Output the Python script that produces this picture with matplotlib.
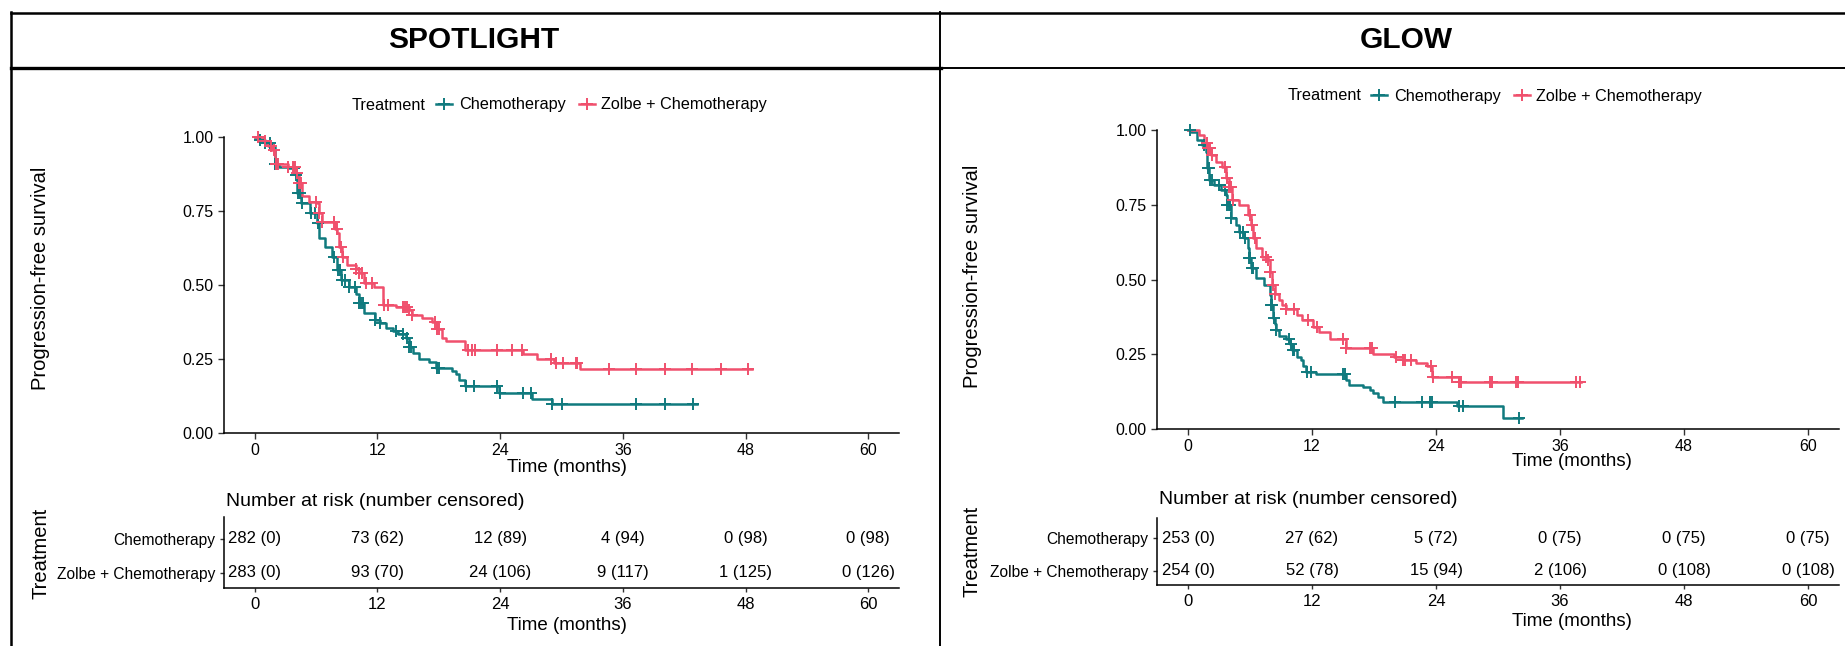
import numpy as np
import matplotlib
matplotlib.use("Agg")
import matplotlib.pyplot as plt
from matplotlib.lines import Line2D

plt.rcParams['font.family'] = ['Liberation Sans', 'DejaVu Sans']

# ---------------- data ----------------
panel_titles = ["SPOTLIGHT", "GLOW"]
groups = ["Chemotherapy", "Zolbe + Chemotherapy"]
x_ticks = [0, 12, 24, 36, 48, 60]
y_ticks = [0.00, 0.25, 0.50, 0.75, 1.00]

# SPOTLIGHT - Chemotherapy
sp_chemo_t = [0, 0.5, 1.0, 1.7, 2.0, 2.4, 3.3, 4.0, 4.1, 4.5, 5.45, 6.1, 6.3, 6.9, 7.6,
              8.06, 8.4, 9.2, 9.9, 10.2, 10.7, 11.8, 12.3, 12.8, 13.5, 14.0, 14.8, 15.1,
              15.5, 16.1, 17.0, 17.7, 19.3, 19.7, 20.0, 20.6, 23.9, 27.1, 29.1]
sp_chemo_s = [1.0, 0.99, 0.98, 0.967, 0.91, 0.90, 0.895, 0.87, 0.81, 0.777, 0.743, 0.71, 0.66,
              0.63, 0.596, 0.55, 0.517, 0.494, 0.47, 0.438, 0.405, 0.382, 0.37, 0.355, 0.345,
              0.335, 0.32, 0.29, 0.27, 0.25, 0.24, 0.22, 0.21, 0.20, 0.18, 0.16, 0.135, 0.115, 0.098]
sp_chemo_end = 43.2
sp_chemo_cens = [0.5, 1.0, 1.5, 2.0, 2.2, 3.8, 4.0, 4.2, 4.4, 4.6, 5.5, 5.9, 6.2, 7.8, 8.1, 8.3,
                 8.5, 8.8, 9.2, 9.8, 10.2, 10.4, 10.6, 11.8, 12.3, 13.8, 14.5, 14.9, 15.1, 15.3,
                 17.8, 18.0, 20.7, 21.4, 23.7, 24.0, 26.2, 27.0, 29.1, 30.0, 37.3, 40.1, 42.9]

# SPOTLIGHT - Zolbe + Chemotherapy
sp_zolbe_t = [0, 0.8, 1.3, 1.7, 2.0, 3.3, 4.0, 4.3, 4.6, 5.3, 6.1, 6.3, 6.6, 7.9, 8.06, 8.2,
              8.55, 9.0, 9.9, 10.2, 10.7, 11.65, 12.5, 13.8, 15.1, 15.4, 16.4, 17.3, 17.8, 18.3,
              18.7, 20.6, 26.2, 27.6, 29.3, 31.8]
sp_zolbe_s = [1.0, 0.985, 0.97, 0.956, 0.91, 0.90, 0.88, 0.845, 0.80, 0.78, 0.777, 0.743, 0.714,
              0.69, 0.675, 0.63, 0.596, 0.567, 0.555, 0.54, 0.506, 0.494, 0.432, 0.425, 0.415,
              0.40, 0.39, 0.375, 0.35, 0.32, 0.31, 0.282, 0.267, 0.25, 0.236, 0.215]
sp_zolbe_end = 48.6
sp_zolbe_cens = [0.3, 1.0, 1.6, 1.9, 2.1, 2.3, 3.3, 3.7, 3.9, 4.1, 4.3, 4.5, 6.0, 6.3, 6.6, 7.8,
                 8.0, 8.4, 8.6, 9.9, 10.2, 10.5, 10.9, 11.5, 12.6, 13.0, 14.5, 14.7, 14.9, 15.1,
                 15.4, 17.6, 17.8, 18.0, 20.9, 21.2, 21.5, 23.7, 25.2, 26.1, 29.0, 29.5, 30.1,
                 31.4, 31.5, 34.6, 37.3, 40.1, 42.8, 45.6, 48.2]

# GLOW - Chemotherapy
gl_chemo_t = [0, 0.26, 0.9, 1.4, 1.7, 1.8, 2.04, 2.5, 3.2, 3.7, 3.8, 4.15, 4.6, 4.96, 5.4, 5.8,
              5.9, 6.1, 6.6, 7.4, 7.9, 8.0, 8.2, 8.4, 8.5, 8.8, 9.5, 9.9, 10.1, 10.5, 10.9, 11.1,
              11.4, 12.4, 15.3, 15.6, 16.9, 17.6, 17.9, 18.4, 18.9, 26.0, 30.5]
gl_chemo_s = [1.0, 0.994, 0.967, 0.95, 0.927, 0.873, 0.833, 0.816, 0.80, 0.783, 0.749, 0.705,
              0.682, 0.66, 0.638, 0.604, 0.571, 0.537, 0.504, 0.48, 0.448, 0.415, 0.371, 0.35,
              0.33, 0.31, 0.30, 0.285, 0.265, 0.24, 0.23, 0.21, 0.19, 0.183, 0.165, 0.147, 0.14,
              0.13, 0.12, 0.108, 0.091, 0.077, 0.036]
gl_chemo_end = 32.3
gl_chemo_cens = [0.2, 1.5, 1.9, 2.0, 2.1, 2.3, 3.0, 3.6, 3.8, 4.0, 4.1, 4.2, 5.0, 5.3, 5.5, 5.9,
                 6.0, 6.2, 6.3, 8.0, 8.1, 8.3, 8.5, 9.8, 10.0, 10.2, 10.3, 11.5, 11.9, 15.0, 15.2,
                 20.0, 22.6, 23.4, 23.6, 26.2, 26.6, 32.0]

# GLOW - Zolbe + Chemotherapy
gl_zolbe_t = [0, 1.07, 1.55, 1.9, 2.2, 2.7, 3.3, 3.7, 4.0, 4.3, 4.96, 5.8, 6.1, 6.25, 6.6, 7.2,
              7.7, 7.9, 8.1, 8.4, 8.8, 9.1, 9.5, 10.5, 11.0, 12.1, 12.7, 13.7, 15.3, 17.9, 19.9,
              20.8, 22.1, 23.1, 23.6, 26.2]
gl_zolbe_s = [1.0, 0.983, 0.955, 0.939, 0.916, 0.894, 0.877, 0.838, 0.81, 0.766, 0.749, 0.716,
              0.682, 0.638, 0.604, 0.576, 0.565, 0.526, 0.48, 0.45, 0.43, 0.415, 0.40, 0.38,
              0.365, 0.34, 0.325, 0.30, 0.27, 0.25, 0.24, 0.23, 0.22, 0.21, 0.175, 0.156]
gl_zolbe_end = 38.0
gl_zolbe_cens = [1.8, 1.9, 2.0, 2.1, 2.3, 3.6, 3.8, 4.0, 4.2, 4.4, 6.0, 6.2, 6.5, 7.5, 7.7, 7.9,
                 8.2, 8.4, 9.5, 10.3, 11.6, 12.5, 15.0, 15.3, 17.6, 17.8, 20.1, 20.8, 21.0, 21.6,
                 23.5, 23.7, 25.5, 26.2, 26.4, 29.2, 29.4, 31.7, 31.9, 37.5, 37.9]

# Risk tables: number at risk (number censored)
sp_risk_chemo = ["282 (0)", "73 (62)", "12 (89)", "4 (94)", "0 (98)", "0 (98)"]
sp_risk_zolbe = ["283 (0)", "93 (70)", "24 (106)", "9 (117)", "1 (125)", "0 (126)"]
gl_risk_chemo = ["253 (0)", "27 (62)", "5 (72)", "0 (75)", "0 (75)", "0 (75)"]
gl_risk_zolbe = ["254 (0)", "52 (78)", "15 (94)", "2 (106)", "0 (108)", "0 (108)"]

# ---------------- figure ----------------
W, H = 1845, 646
fig = plt.figure(figsize=(W / 100, H / 100), dpi=100)

def fx(px):
    return px / W

def fy(py):
    return 1 - py / H

TEAL = '#107A7E'
PINK = '#F0506D'
colors = [TEAL, PINK]


def step_at(times, surv, t):
    idx = np.searchsorted(np.asarray(times), np.asarray(t), side='right') - 1
    return np.asarray(surv)[idx]


def draw_km(ax, times, surv, end, cens, color):
    t = np.append(times, end)
    s = np.append(surv, surv[-1])
    ax.step(t, s, where='post', color=color, lw=1.8, clip_on=False, zorder=3)
    ax.plot(cens, step_at(times, surv, cens), ls='none', marker='+', ms=8.5, mew=1.4,
            color=color, clip_on=False, zorder=4)


def style_axes(ax):
    for sp in ['top', 'right']:
        ax.spines[sp].set_visible(False)
    for sp in ['left', 'bottom']:
        ax.spines[sp].set_linewidth(1.1)
        ax.spines[sp].set_color('black')
    ax.tick_params(axis='both', length=4, width=1.0, colors='#333333', labelcolor='black',
                   labelsize=11.5)


def km_axes(left, right, top, bottom):
    ax = fig.add_axes([fx(left), fy(bottom), fx(right - left), (bottom - top) / H])
    ax.set_xlim(-3, 63)
    ax.set_ylim(0, 1)
    ax.set_xticks(x_ticks)
    ax.set_yticks(y_ticks)
    ax.set_yticklabels([f"{v:.2f}" for v in y_ticks])
    style_axes(ax)
    return ax


def table_axes(left, right, top, bottom, rows_a, rows_b):
    ax = fig.add_axes([fx(left), fy(bottom), fx(right - left), (bottom - top) / H])
    ax.set_xlim(-3, 63)
    ax.set_ylim(0.55, 2.63)
    ax.set_xticks(x_ticks)
    ax.set_yticks([2, 1])
    ax.set_yticklabels(groups)
    style_axes(ax)
    ax.tick_params(axis='y', labelsize=11.2, length=3)
    ax.tick_params(axis='x', labelsize=12, length=3)
    for t, a, b in zip(x_ticks, rows_a, rows_b):
        ax.text(t, 2, a, ha='center', va='center', fontsize=12)
        ax.text(t, 1, b, ha='center', va='center', fontsize=12)
    return ax


# ---- SPOTLIGHT ----
ax1 = km_axes(224, 899, 137, 433)
draw_km(ax1, sp_chemo_t, sp_chemo_s, sp_chemo_end, sp_chemo_cens, TEAL)
draw_km(ax1, sp_zolbe_t, sp_zolbe_s, sp_zolbe_end, sp_zolbe_cens, PINK)
tb1 = table_axes(224, 899, 517, 588, sp_risk_chemo, sp_risk_zolbe)

# ---- GLOW ----
ax2 = km_axes(1157, 1839, 130, 429)
draw_km(ax2, gl_chemo_t, gl_chemo_s, gl_chemo_end, gl_chemo_cens, TEAL)
draw_km(ax2, gl_zolbe_t, gl_zolbe_s, gl_zolbe_end, gl_zolbe_cens, PINK)
tb2 = table_axes(1157, 1839, 518, 585, gl_risk_chemo, gl_risk_zolbe)

# ---- axis titles ----
fs_title = 14.5
fig.text(fx(567), fy(467), "Time (months)", ha='center', va='center', fontsize=13.5)
fig.text(fx(1572), fy(462), "Time (months)", ha='center', va='center', fontsize=13.5)
fig.text(fx(567), fy(626), "Time (months)", ha='center', va='center', fontsize=13.5)
fig.text(fx(1572), fy(622), "Time (months)", ha='center', va='center', fontsize=13.5)
fig.text(fx(41), fy(278), "Progression-free survival", ha='center', va='center',
         rotation=90, fontsize=fs_title)
fig.text(fx(972), fy(276), "Progression-free survival", ha='center', va='center',
         rotation=90, fontsize=fs_title)
fig.text(fx(41), fy(553), "Treatment", ha='center', va='center', rotation=90, fontsize=fs_title)
fig.text(fx(972), fy(551), "Treatment", ha='center', va='center', rotation=90, fontsize=fs_title)
fig.text(fx(226), fy(501), "Number at risk (number censored)", ha='left', va='center',
         fontsize=14)
fig.text(fx(1159), fy(499), "Number at risk (number censored)", ha='left', va='center',
         fontsize=14)

# ---- legends ----
handles = [Line2D([], [], color=c, marker='+', lw=1.8, ms=8.5, mew=1.4) for c in colors]
for tx, y in [(426, 105), (1361, 96)]:
    fig.text(fx(tx), fy(y), "Treatment", ha='right', va='center', fontsize=11.7)
    fig.legend(handles, groups, loc='center left', bbox_to_anchor=(fx(tx + 10), fy(y)),
               ncol=2, frameon=False, fontsize=11.7, handlelength=1.0, handletextpad=0.4,
               columnspacing=0.8, borderaxespad=0, borderpad=0)

# ---- panel titles ----
fig.text(fx(474), fy(40), panel_titles[0], ha='center', va='center', fontsize=21.5,
         fontweight='bold')
fig.text(fx(1406), fy(40), panel_titles[1], ha='center', va='center', fontsize=21.5,
         fontweight='bold')

# ---- frame lines ----
def hline(y, x0, x1, lw):
    fig.add_artist(Line2D([fx(x0), fx(x1)], [fy(y), fy(y)], color='black', lw=lw))

def vline(x, y0, y1, lw):
    fig.add_artist(Line2D([fx(x), fx(x)], [fy(y0), fy(y1)], color='black', lw=lw))

hline(13, 11, W, 1.8)
hline(68, 11, 941, 2.4)
hline(68, 941, W, 1.4)
vline(11, 12, H, 1.8)
vline(940, 12, H, 1.4)

fig.savefig("out.png", dpi=100)
